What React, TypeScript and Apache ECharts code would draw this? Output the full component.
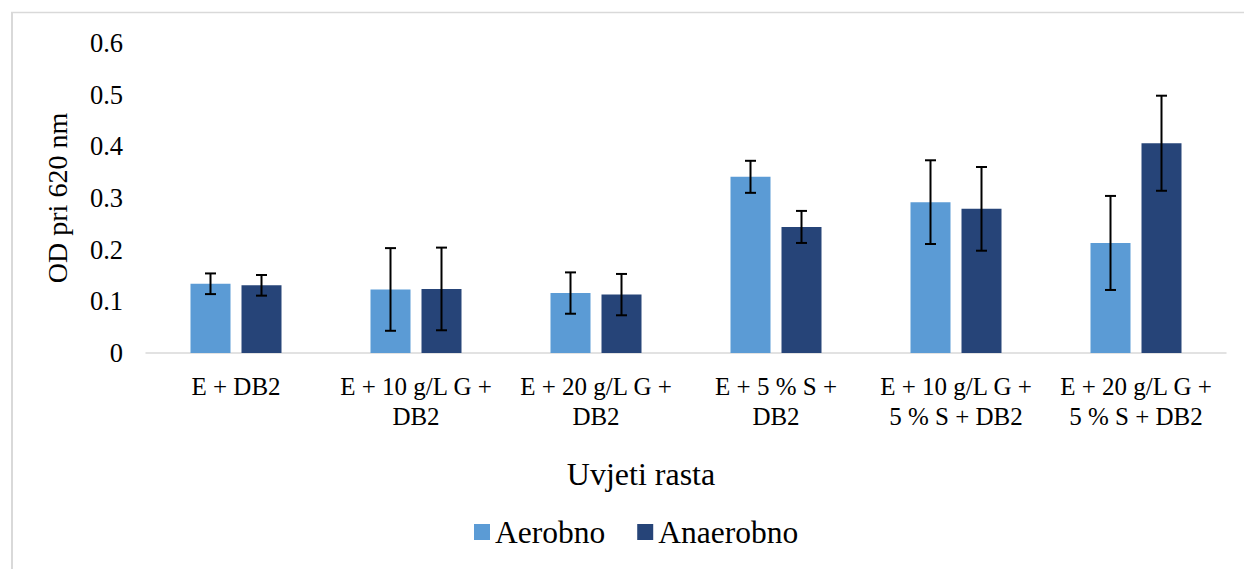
import React, { useEffect, useRef } from "react";
import * as echarts from "echarts";

const categories = [
  "E + DB2",
  "E + 10 g/L G +\nDB2",
  "E + 20 g/L G +\nDB2",
  "E + 5 % S +\nDB2",
  "E + 10 g/L G +\n5 % S + DB2",
  "E + 20 g/L G +\n5 % S + DB2",
];
const seriesNames = ["Aerobno", "Anaerobno"];
const aerobno = [0.134, 0.123, 0.116, 0.341, 0.292, 0.213];
const aerobnoErr = [0.02, 0.08, 0.04, 0.031, 0.081, 0.091];
const anaerobno = [0.131, 0.124, 0.113, 0.244, 0.279, 0.406];
const anaerobnoErr = [0.02, 0.08, 0.04, 0.031, 0.081, 0.092];
const yTicks = { min: 0, max: 0.6, interval: 0.1 };

const COLORS = ["#5B9BD5", "#264478"];
const FONT = "Liberation Serif";
const BAR_W = 40;
const BAR_GAP_PX = 11;

export default function App() {
  const ref = useRef<HTMLDivElement>(null);
  useEffect(() => {
    if (!ref.current) return;
    const chart = echarts.init(ref.current, undefined, { renderer: "svg" });
    const half = (BAR_W + BAR_GAP_PX) / 2;
    const errSeries = (vals: number[], errs: number[], sIdx: number) => ({
      type: "custom",
      name: seriesNames[sIdx] + " err",
      z: 10,
      data: vals.map((v, i) => [i, v, errs[i]]),
      encode: { x: 0, y: 1 },
      renderItem: (params: any, api: any) => {
        const i = api.value(0);
        const v = api.value(1);
        const e = api.value(2);
        const off = sIdx === 0 ? -half : half;
        const top = api.coord([i, v + e]);
        const bot = api.coord([i, v - e]);
        const x = top[0] + off;
        const cap = 5.5;
        const style = { stroke: "#000", lineWidth: 2 };
        return {
          type: "group",
          children: [
            { type: "line", shape: { x1: x, y1: top[1], x2: x, y2: bot[1] }, style },
            { type: "line", shape: { x1: x - cap, y1: top[1], x2: x + cap, y2: top[1] }, style },
            { type: "line", shape: { x1: x - cap, y1: bot[1], x2: x + cap, y2: bot[1] }, style },
          ],
        };
      },
    });
    chart.setOption({
      animation: false,
      textStyle: { fontFamily: FONT },
      graphic: [
        { type: "line", shape: { x1: 12, y1: 12, x2: 12, y2: 569 }, style: { stroke: "#d9d9d9", lineWidth: 2 } },
        { type: "line", shape: { x1: 11, y1: 12.5, x2: 1244, y2: 12.5 }, style: { stroke: "#d9d9d9", lineWidth: 1.5 } },
      ],
      grid: { left: 146, right: 18, top: 43, bottom: 216 },
      legend: {
        data: seriesNames,
        bottom: 21,
        left: 474,
        padding: 0,
        itemWidth: 16,
        itemHeight: 16,
        itemGap: 32,
        icon: "rect",
        textStyle: { fontFamily: FONT, fontSize: 31.5, color: "#000" },
      },
      xAxis: {
        type: "category",
        data: categories,
        axisTick: { show: false },
        axisLine: { lineStyle: { color: "#d9d9d9", width: 1.5 } },
        axisLabel: {
          fontFamily: FONT,
          fontSize: 25,
          color: "#000",
          lineHeight: 30,
          margin: 18,
          interval: 0,
        },
        name: "Uvjeti rasta",
        nameLocation: "middle",
        nameGap: 105,
        nameTextStyle: { fontFamily: FONT, fontSize: 32, color: "#000", padding: [0, 90, 0, 0] },
      },
      yAxis: {
        type: "value",
        min: yTicks.min,
        max: yTicks.max,
        interval: yTicks.interval,
        splitLine: { show: false },
        axisLine: { show: false },
        axisTick: { show: false },
        axisLabel: { fontFamily: FONT, fontSize: 26.5, color: "#000", margin: 23 },
        name: "OD pri 620 nm",
        nameLocation: "middle",
        nameGap: 75,
        nameTextStyle: { fontFamily: FONT, fontSize: 28, color: "#000" },
      },
      series: [
        {
          type: "bar",
          name: seriesNames[0],
          data: aerobno,
          barWidth: BAR_W,
          barGap: (BAR_GAP_PX / BAR_W) * 100 + "%",
          itemStyle: { color: COLORS[0] },
        },
        {
          type: "bar",
          name: seriesNames[1],
          data: anaerobno,
          barWidth: BAR_W,
          barGap: (BAR_GAP_PX / BAR_W) * 100 + "%",
          itemStyle: { color: COLORS[1] },
        },
        errSeries(aerobno, aerobnoErr, 0),
        errSeries(anaerobno, anaerobnoErr, 1),
      ],
    });
    return () => chart.dispose();
  }, []);
  return (
    <div
      ref={ref}
      style={{ position: "absolute", left: 0, top: 0, width: 1244, height: 569, background: "#fff" }}
    />
  );
}
